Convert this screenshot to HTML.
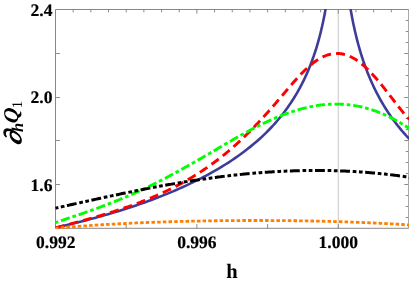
<!DOCTYPE html>
<html><head><meta charset="utf-8">
<style>
html,body{margin:0;padding:0;background:#fff;}
body{width:409px;height:282px;overflow:hidden;position:relative;font-family:"Liberation Serif",serif;}
svg{position:absolute;left:0;top:0;will-change:transform;}
text{text-rendering:geometricPrecision;}
.t{font-family:"Liberation Serif",serif;font-weight:bold;fill:#000;}
</style></head><body>
<svg width="409" height="282" viewBox="0 0 409 282">
<rect x="0" y="0" width="409" height="282" fill="#fff"/>
<defs><clipPath id="c"><rect x="54.6" y="9.0" width="354.8" height="220.0"/></clipPath></defs>
<line x1="338.3" y1="9.5" x2="338.3" y2="228.3" stroke="#d2d2d2" stroke-width="1.2"/>
<g stroke="#8a8a8a" stroke-width="1" fill="none">
<line x1="73.17" y1="9.5" x2="73.17" y2="12.30"/>
<line x1="90.85" y1="9.5" x2="90.85" y2="12.30"/>
<line x1="108.53" y1="9.5" x2="108.53" y2="12.30"/>
<line x1="126.2" y1="228.3" x2="126.2" y2="224.10"/>
<line x1="126.2" y1="9.5" x2="126.2" y2="12.30"/>
<line x1="143.88" y1="9.5" x2="143.88" y2="12.30"/>
<line x1="161.55" y1="9.5" x2="161.55" y2="12.30"/>
<line x1="179.23" y1="9.5" x2="179.23" y2="12.30"/>
<line x1="196.9" y1="228.3" x2="196.9" y2="224.10"/>
<line x1="196.9" y1="9.5" x2="196.9" y2="13.70"/>
<line x1="214.58" y1="9.5" x2="214.58" y2="12.30"/>
<line x1="232.25" y1="9.5" x2="232.25" y2="12.30"/>
<line x1="249.93" y1="9.5" x2="249.93" y2="12.30"/>
<line x1="267.6" y1="228.3" x2="267.6" y2="224.10"/>
<line x1="267.6" y1="9.5" x2="267.6" y2="12.30"/>
<line x1="285.27" y1="9.5" x2="285.27" y2="12.30"/>
<line x1="302.95" y1="9.5" x2="302.95" y2="12.30"/>
<line x1="320.62" y1="9.5" x2="320.62" y2="12.30"/>
<line x1="338.3" y1="228.3" x2="338.3" y2="224.10"/>
<line x1="338.3" y1="9.5" x2="338.3" y2="13.70"/>
<line x1="355.98" y1="9.5" x2="355.98" y2="12.30"/>
<line x1="373.65" y1="9.5" x2="373.65" y2="12.30"/>
<line x1="391.32" y1="9.5" x2="391.32" y2="12.30"/>
<line x1="55.5" y1="53.5" x2="59.9" y2="53.5"/>
<line x1="55.5" y1="97.5" x2="59.9" y2="97.5"/>
<line x1="55.5" y1="140.5" x2="59.9" y2="140.5"/>
<line x1="55.5" y1="184.5" x2="59.9" y2="184.5"/>
<line x1="408.5" y1="20.5" x2="405.7" y2="20.5"/>
<line x1="408.5" y1="31.5" x2="405.7" y2="31.5"/>
<line x1="408.5" y1="42.5" x2="405.7" y2="42.5"/>
<line x1="408.5" y1="53.5" x2="404.3" y2="53.5"/>
<line x1="408.5" y1="64.5" x2="405.7" y2="64.5"/>
<line x1="408.5" y1="75.5" x2="405.7" y2="75.5"/>
<line x1="408.5" y1="86.5" x2="405.7" y2="86.5"/>
<line x1="408.5" y1="97.5" x2="404.3" y2="97.5"/>
<line x1="408.5" y1="107.5" x2="405.7" y2="107.5"/>
<line x1="408.5" y1="118.5" x2="405.7" y2="118.5"/>
<line x1="408.5" y1="129.5" x2="405.7" y2="129.5"/>
<line x1="408.5" y1="140.5" x2="404.3" y2="140.5"/>
<line x1="408.5" y1="151.5" x2="405.7" y2="151.5"/>
<line x1="408.5" y1="162.5" x2="405.7" y2="162.5"/>
<line x1="408.5" y1="173.5" x2="405.7" y2="173.5"/>
<line x1="408.5" y1="184.5" x2="404.3" y2="184.5"/>
<line x1="408.5" y1="195.5" x2="405.7" y2="195.5"/>
<line x1="408.5" y1="206.5" x2="405.7" y2="206.5"/>
<line x1="408.5" y1="217.5" x2="405.7" y2="217.5"/>
</g>
<path d="M408.5,9.5 L55.5,9.5 L55.5,228.3 L408.5,228.3" stroke="#888888" stroke-width="1" fill="none" stroke-linejoin="miter"/>
<line x1="408.5" y1="9.0" x2="408.5" y2="228.8" stroke="#a8a8a8" stroke-width="1"/>
<g clip-path="url(#c)" fill="none" stroke-linejoin="round">
<path d="M55.50,227.59 L58.59,226.90 L61.69,226.20 L64.78,225.49 L67.88,224.77 L70.97,224.03 L74.07,223.29 L77.16,222.53 L80.26,221.75 L83.35,220.97 L86.45,220.17 L89.54,219.36 L92.64,218.54 L95.73,217.70 L98.83,216.85 L101.92,215.98 L105.02,215.10 L108.11,214.20 L111.21,213.29 L114.30,212.37 L117.40,211.43 L120.49,210.47 L123.59,209.50 L126.68,208.51 L129.78,207.50 L132.87,206.47 L135.97,205.43 L139.06,204.37 L142.16,203.29 L145.25,202.19 L148.35,201.07 L151.44,199.93 L154.54,198.77 L157.63,197.59 L160.73,196.39 L163.82,195.16 L166.92,193.91 L170.01,192.64 L173.11,191.34 L176.20,190.01 L179.30,188.66 L182.39,187.27 L185.49,185.86 L188.58,184.42 L191.68,182.95 L194.77,181.45 L197.87,179.91 L200.96,178.33 L204.06,176.72 L207.15,175.07 L210.25,173.39 L213.34,171.65 L216.44,169.88 L219.53,168.06 L222.63,166.18 L225.72,164.26 L228.82,162.28 L231.91,160.25 L235.01,158.16 L238.10,156.00 L241.20,153.77 L244.29,151.47 L247.39,149.09 L250.48,146.63 L253.58,144.08 L256.67,141.44 L259.77,138.69 L262.86,135.84 L265.96,132.86 L269.05,129.75 L272.15,126.50 L275.24,123.09 L278.34,119.52 L281.43,115.75 L284.53,111.77 L287.62,107.55 L290.72,103.07 L293.81,98.29 L296.91,93.15 L300.00,87.62 L300.50,86.69 L300.89,85.96 L301.27,85.22 L301.66,84.47 L302.04,83.72 L302.43,82.96 L302.82,82.19 L303.20,81.41 L303.59,80.62 L303.97,79.82 L304.36,79.02 L304.75,78.20 L305.13,77.38 L305.52,76.55 L305.91,75.70 L306.29,74.85 L306.68,73.98 L307.06,73.11 L307.45,72.22 L307.84,71.33 L308.22,70.42 L308.61,69.50 L308.99,68.57 L309.38,67.62 L309.77,66.66 L310.15,65.69 L310.54,64.71 L310.92,63.71 L311.31,62.70 L311.70,61.67 L312.08,60.63 L312.47,59.57 L312.85,58.50 L313.24,57.41 L313.63,56.31 L314.01,55.18 L314.40,54.04 L314.78,52.88 L315.17,51.70 L315.56,50.50 L315.94,49.28 L316.33,48.04 L316.72,46.77 L317.10,45.49 L317.49,44.18 L317.87,42.84 L318.26,41.48 L318.65,40.09 L319.03,38.68 L319.42,37.24 L319.80,35.76 L320.19,34.26 L320.58,32.72 L320.96,31.15 L321.35,29.55 L321.73,27.90 L322.12,26.22 L322.51,24.50 L322.89,22.73 L323.28,20.92 L323.66,19.06 L324.05,17.16 L324.44,15.20 L324.82,13.18 L325.21,11.11 L325.59,8.97 L325.98,6.77 L326.37,4.50 L326.75,2.15 L327.14,-0.28 L327.53,-2.79" stroke="#3d3d99" stroke-width="2.6"/>
<path d="M348.41,-4.96 L348.82,-2.07 L349.24,0.71 L349.65,3.39 L350.07,5.98 L350.48,8.47 L350.90,10.89 L351.31,13.23 L351.73,15.50 L352.14,17.71 L352.56,19.85 L352.97,21.92 L353.39,23.95 L353.81,25.92 L354.22,27.84 L354.64,29.71 L355.05,31.54 L355.47,33.32 L355.88,35.06 L356.30,36.77 L356.71,38.43 L357.13,40.06 L357.54,41.65 L357.96,43.22 L358.37,44.75 L358.79,46.25 L359.20,47.72 L359.62,49.16 L360.03,50.58 L360.45,51.97 L360.86,53.34 L361.28,54.68 L361.69,56.00 L362.11,57.29 L362.53,58.57 L362.94,59.82 L363.36,61.05 L363.77,62.27 L364.19,63.46 L364.60,64.64 L365.02,65.80 L365.43,66.94 L365.85,68.07 L366.26,69.17 L366.68,70.27 L367.09,71.35 L367.51,72.41 L367.92,73.46 L368.34,74.49 L368.75,75.51 L369.17,76.52 L369.58,77.51 L370.00,78.49 L370.50,79.66 L371.30,81.48 L372.09,83.26 L372.89,85.00 L373.68,86.70 L374.48,88.36 L375.28,89.99 L376.07,91.58 L376.87,93.14 L377.66,94.67 L378.46,96.18 L379.26,97.65 L380.05,99.09 L380.85,100.51 L381.64,101.90 L382.44,103.27 L383.23,104.61 L384.03,105.93 L384.83,107.23 L385.62,108.51 L386.42,109.76 L387.21,111.00 L388.01,112.21 L388.81,113.41 L389.60,114.58 L390.40,115.74 L391.19,116.88 L391.99,118.01 L392.79,119.11 L393.58,120.20 L394.38,121.28 L395.17,122.34 L395.97,123.38 L396.77,124.41 L397.56,125.43 L398.36,126.43 L399.15,127.42 L399.95,128.39 L400.74,129.36 L401.54,130.31 L402.34,131.24 L403.13,132.17 L403.93,133.08 L404.72,133.98 L405.52,134.87 L406.32,135.75 L407.11,136.62 L407.91,137.48 L408.70,138.33 L409.50,139.16" stroke="#3d3d99" stroke-width="2.6"/>
<path d="M55.50,227.89 L56.87,227.54 L58.23,227.18 L59.60,226.82 L60.97,226.46 L62.33,226.11 L63.70,225.75 L65.07,225.39 L66.43,225.03 L67.80,224.66 L69.17,224.30 L70.53,223.94 L71.90,223.57 L73.27,223.21 L74.64,222.84 L76.00,222.47 L77.37,222.10 L78.74,221.73 L80.10,221.36 L81.47,220.98 L82.84,220.61 L84.20,220.23 L85.57,219.85 L86.94,219.47 L88.30,219.08 L89.67,218.70 L91.04,218.31 L92.40,217.92 L93.77,217.53 L95.14,217.13 L96.50,216.74 L97.87,216.34 L99.24,215.94 L100.60,215.53 L101.97,215.13 L103.34,214.72 L104.70,214.30 L106.07,213.89 L107.44,213.47 L108.81,213.05 L110.17,212.62 L111.54,212.19 L112.91,211.76 L114.27,211.32 L115.64,210.88 L117.01,210.44 L118.37,209.99 L119.74,209.54 L121.11,209.09 L122.47,208.63 L123.84,208.17 L125.21,207.70 L126.57,207.23 L127.94,206.75 L129.31,206.27 L130.67,205.78 L132.04,205.29 L133.41,204.80 L134.77,204.30 L136.14,203.79 L137.51,203.28 L138.87,202.76 L140.24,202.24 L141.61,201.71 L142.97,201.18 L144.34,200.64 L145.71,200.10 L147.08,199.54 L148.44,198.99 L149.81,198.42 L151.18,197.85 L152.54,197.28 L153.91,196.70 L155.28,196.11 L156.64,195.51 L158.01,194.91 L159.38,194.30 L160.74,193.68 L162.11,193.05 L163.48,192.42 L164.84,191.78 L166.21,191.13 L167.58,190.48 L168.94,189.81 L170.31,189.14 L171.68,188.46 L173.04,187.77 L174.41,187.08 L175.78,186.37 L177.14,185.66 L178.51,184.93 L179.88,184.20 L181.25,183.46 L182.61,182.71 L183.98,181.95 L185.35,181.18 L186.71,180.40 L188.08,179.61 L189.45,178.81 L190.81,178.00 L192.18,177.18 L193.55,176.35 L194.91,175.51 L196.28,174.66 L197.65,173.80 L199.01,172.92 L200.38,172.04 L201.75,171.14 L203.11,170.23 L204.48,169.31 L205.85,168.38 L207.21,167.44 L208.58,166.49 L209.95,165.52 L211.31,164.54 L212.68,163.55 L214.05,162.54 L215.42,161.52 L216.78,160.49 L218.15,159.45 L219.52,158.39 L220.88,157.32 L222.25,156.24 L223.62,155.14 L224.98,154.03 L226.35,152.90 L227.72,151.76 L229.08,150.61 L230.45,149.44 L231.82,148.26 L233.18,147.06 L234.55,145.85 L235.92,144.63 L237.28,143.39 L238.65,142.14 L240.02,140.87 L241.38,139.59 L242.75,138.29 L244.12,136.99 L245.48,135.66 L246.85,134.33 L248.22,132.98 L249.58,131.61 L250.95,130.24 L252.32,128.85 L253.69,127.44 L255.05,126.02 L256.42,124.59 L257.79,123.15 L259.15,121.70 L260.52,120.23 L261.89,118.75 L263.25,117.26 L264.62,115.75 L265.99,114.24 L267.35,112.71 L268.72,111.17 L270.09,109.63 L271.45,108.07 L272.82,106.50 L274.19,104.93 L275.55,103.34 L276.92,101.75 L278.29,100.15 L279.65,98.55 L281.02,96.95 L282.39,95.34 L283.75,93.72 L285.12,92.11 L286.49,90.50 L287.86,88.89 L289.22,87.29 L290.59,85.70 L291.96,84.11 L293.32,82.54 L294.69,80.99 L296.06,79.46 L297.42,77.95 L298.79,76.46 L300.16,75.00 L301.52,73.58 L302.89,72.18 L304.26,70.82 L305.62,69.50 L306.99,68.22 L308.36,66.98 L309.72,65.79 L311.09,64.64 L312.46,63.54 L313.82,62.48 L315.19,61.48 L316.56,60.53 L317.92,59.64 L319.29,58.80 L320.66,58.02 L322.03,57.30 L323.39,56.63 L324.76,56.03 L326.13,55.49 L327.49,55.00 L328.86,54.59 L330.23,54.23 L331.59,53.94 L332.96,53.72 L334.33,53.56 L335.69,53.46 L337.06,53.43 L338.43,53.47 L339.79,53.57 L341.16,53.74 L342.53,53.98 L343.89,54.28 L345.26,54.64 L346.63,55.07 L347.99,55.57 L349.36,56.13 L350.73,56.75 L352.09,57.43 L353.46,58.18 L354.83,58.99 L356.19,59.85 L357.56,60.78 L358.93,61.76 L360.30,62.80 L361.66,63.89 L363.03,65.04 L364.40,66.24 L365.76,67.49 L367.13,68.79 L368.50,70.13 L369.86,71.52 L371.23,72.95 L372.60,74.42 L373.96,75.94 L375.33,77.48 L376.70,79.07 L378.06,80.68 L379.43,82.32 L380.80,83.99 L382.16,85.68 L383.53,87.40 L384.90,89.13 L386.26,90.88 L387.63,92.64 L389.00,94.40 L390.36,96.18 L391.73,97.96 L393.10,99.73 L394.47,101.50 L395.83,103.27 L397.20,105.02 L398.57,106.75 L399.93,108.47 L401.30,110.16 L402.67,111.83 L404.03,113.47 L405.40,115.06 L406.77,116.62 L408.13,118.14 L409.50,119.61" stroke="#ff0000" stroke-width="2.9" stroke-dasharray="9 5.1" stroke-dashoffset="-0.3"/>
<path d="M55.50,222.58 L56.87,222.12 L58.23,221.66 L59.60,221.19 L60.97,220.73 L62.33,220.27 L63.70,219.82 L65.07,219.36 L66.43,218.90 L67.80,218.44 L69.17,217.98 L70.53,217.52 L71.90,217.06 L73.27,216.60 L74.64,216.13 L76.00,215.67 L77.37,215.21 L78.74,214.74 L80.10,214.27 L81.47,213.81 L82.84,213.33 L84.20,212.86 L85.57,212.39 L86.94,211.91 L88.30,211.43 L89.67,210.95 L91.04,210.46 L92.40,209.98 L93.77,209.49 L95.14,208.99 L96.50,208.50 L97.87,208.00 L99.24,207.50 L100.60,206.99 L101.97,206.48 L103.34,205.97 L104.70,205.46 L106.07,204.94 L107.44,204.41 L108.81,203.89 L110.17,203.35 L111.54,202.82 L112.91,202.28 L114.27,201.74 L115.64,201.19 L117.01,200.64 L118.37,200.08 L119.74,199.52 L121.11,198.96 L122.47,198.39 L123.84,197.81 L125.21,197.24 L126.57,196.65 L127.94,196.07 L129.31,195.47 L130.67,194.88 L132.04,194.28 L133.41,193.67 L134.77,193.06 L136.14,192.44 L137.51,191.82 L138.87,191.20 L140.24,190.57 L141.61,189.94 L142.97,189.30 L144.34,188.65 L145.71,188.01 L147.08,187.35 L148.44,186.69 L149.81,186.03 L151.18,185.37 L152.54,184.69 L153.91,184.02 L155.28,183.34 L156.64,182.65 L158.01,181.96 L159.38,181.27 L160.74,180.57 L162.11,179.87 L163.48,179.16 L164.84,178.45 L166.21,177.73 L167.58,177.01 L168.94,176.29 L170.31,175.56 L171.68,174.83 L173.04,174.09 L174.41,173.35 L175.78,172.61 L177.14,171.86 L178.51,171.11 L179.88,170.36 L181.25,169.60 L182.61,168.84 L183.98,168.08 L185.35,167.31 L186.71,166.55 L188.08,165.77 L189.45,165.00 L190.81,164.22 L192.18,163.44 L193.55,162.66 L194.91,161.88 L196.28,161.09 L197.65,160.30 L199.01,159.51 L200.38,158.72 L201.75,157.93 L203.11,157.13 L204.48,156.33 L205.85,155.54 L207.21,154.74 L208.58,153.94 L209.95,153.14 L211.31,152.34 L212.68,151.54 L214.05,150.74 L215.42,149.94 L216.78,149.14 L218.15,148.34 L219.52,147.54 L220.88,146.74 L222.25,145.95 L223.62,145.15 L224.98,144.36 L226.35,143.56 L227.72,142.77 L229.08,141.98 L230.45,141.20 L231.82,140.41 L233.18,139.63 L234.55,138.85 L235.92,138.07 L237.28,137.30 L238.65,136.53 L240.02,135.77 L241.38,135.00 L242.75,134.25 L244.12,133.49 L245.48,132.75 L246.85,132.00 L248.22,131.27 L249.58,130.53 L250.95,129.81 L252.32,129.09 L253.69,128.37 L255.05,127.66 L256.42,126.96 L257.79,126.27 L259.15,125.58 L260.52,124.90 L261.89,124.22 L263.25,123.56 L264.62,122.90 L265.99,122.25 L267.35,121.61 L268.72,120.98 L270.09,120.35 L271.45,119.74 L272.82,119.13 L274.19,118.54 L275.55,117.95 L276.92,117.37 L278.29,116.80 L279.65,116.25 L281.02,115.70 L282.39,115.16 L283.75,114.64 L285.12,114.12 L286.49,113.62 L287.86,113.13 L289.22,112.64 L290.59,112.17 L291.96,111.72 L293.32,111.27 L294.69,110.83 L296.06,110.41 L297.42,110.00 L298.79,109.61 L300.16,109.22 L301.52,108.85 L302.89,108.49 L304.26,108.14 L305.62,107.81 L306.99,107.49 L308.36,107.18 L309.72,106.89 L311.09,106.61 L312.46,106.35 L313.82,106.10 L315.19,105.86 L316.56,105.64 L317.92,105.43 L319.29,105.24 L320.66,105.06 L322.03,104.90 L323.39,104.75 L324.76,104.61 L326.13,104.49 L327.49,104.39 L328.86,104.30 L330.23,104.23 L331.59,104.17 L332.96,104.13 L334.33,104.10 L335.69,104.09 L337.06,104.10 L338.43,104.12 L339.79,104.16 L341.16,104.21 L342.53,104.28 L343.89,104.37 L345.26,104.47 L346.63,104.59 L347.99,104.72 L349.36,104.88 L350.73,105.04 L352.09,105.23 L353.46,105.43 L354.83,105.65 L356.19,105.89 L357.56,106.14 L358.93,106.41 L360.30,106.70 L361.66,107.00 L363.03,107.32 L364.40,107.66 L365.76,108.01 L367.13,108.39 L368.50,108.78 L369.86,109.19 L371.23,109.61 L372.60,110.05 L373.96,110.51 L375.33,110.99 L376.70,111.48 L378.06,112.00 L379.43,112.52 L380.80,113.07 L382.16,113.64 L383.53,114.22 L384.90,114.82 L386.26,115.44 L387.63,116.07 L389.00,116.72 L390.36,117.39 L391.73,118.08 L393.10,118.79 L394.47,119.51 L395.83,120.25 L397.20,121.01 L398.57,121.78 L399.93,122.58 L401.30,123.39 L402.67,124.21 L404.03,125.06 L405.40,125.92 L406.77,126.80 L408.13,127.70 L409.50,128.61" stroke="#00ff00" stroke-width="2.9" stroke-dasharray="9.3 2.85 3.7 2.87" stroke-dashoffset="-5.74"/>
<path d="M55.50,208.19 L56.87,207.89 L58.23,207.58 L59.60,207.27 L60.97,206.97 L62.33,206.66 L63.70,206.36 L65.07,206.05 L66.43,205.74 L67.80,205.44 L69.17,205.13 L70.53,204.83 L71.90,204.52 L73.27,204.22 L74.64,203.91 L76.00,203.61 L77.37,203.30 L78.74,203.00 L80.10,202.70 L81.47,202.39 L82.84,202.09 L84.20,201.79 L85.57,201.49 L86.94,201.19 L88.30,200.88 L89.67,200.58 L91.04,200.28 L92.40,199.98 L93.77,199.68 L95.14,199.39 L96.50,199.09 L97.87,198.79 L99.24,198.49 L100.60,198.20 L101.97,197.90 L103.34,197.61 L104.70,197.31 L106.07,197.02 L107.44,196.73 L108.81,196.43 L110.17,196.14 L111.54,195.85 L112.91,195.56 L114.27,195.27 L115.64,194.98 L117.01,194.70 L118.37,194.41 L119.74,194.13 L121.11,193.84 L122.47,193.56 L123.84,193.27 L125.21,192.99 L126.57,192.71 L127.94,192.43 L129.31,192.15 L130.67,191.88 L132.04,191.60 L133.41,191.32 L134.77,191.05 L136.14,190.78 L137.51,190.50 L138.87,190.23 L140.24,189.96 L141.61,189.69 L142.97,189.43 L144.34,189.16 L145.71,188.90 L147.08,188.63 L148.44,188.37 L149.81,188.11 L151.18,187.85 L152.54,187.59 L153.91,187.33 L155.28,187.08 L156.64,186.82 L158.01,186.57 L159.38,186.32 L160.74,186.07 L162.11,185.82 L163.48,185.57 L164.84,185.33 L166.21,185.08 L167.58,184.84 L168.94,184.60 L170.31,184.36 L171.68,184.12 L173.04,183.88 L174.41,183.65 L175.78,183.42 L177.14,183.18 L178.51,182.95 L179.88,182.72 L181.25,182.50 L182.61,182.27 L183.98,182.05 L185.35,181.83 L186.71,181.61 L188.08,181.39 L189.45,181.17 L190.81,180.96 L192.18,180.74 L193.55,180.53 L194.91,180.32 L196.28,180.12 L197.65,179.91 L199.01,179.71 L200.38,179.50 L201.75,179.30 L203.11,179.10 L204.48,178.91 L205.85,178.71 L207.21,178.52 L208.58,178.33 L209.95,178.14 L211.31,177.96 L212.68,177.77 L214.05,177.59 L215.42,177.41 L216.78,177.23 L218.15,177.05 L219.52,176.88 L220.88,176.70 L222.25,176.53 L223.62,176.37 L224.98,176.20 L226.35,176.04 L227.72,175.87 L229.08,175.71 L230.45,175.56 L231.82,175.40 L233.18,175.25 L234.55,175.10 L235.92,174.95 L237.28,174.80 L238.65,174.66 L240.02,174.51 L241.38,174.37 L242.75,174.24 L244.12,174.10 L245.48,173.97 L246.85,173.84 L248.22,173.71 L249.58,173.58 L250.95,173.46 L252.32,173.34 L253.69,173.22 L255.05,173.10 L256.42,172.99 L257.79,172.87 L259.15,172.76 L260.52,172.66 L261.89,172.55 L263.25,172.45 L264.62,172.35 L265.99,172.25 L267.35,172.16 L268.72,172.06 L270.09,171.97 L271.45,171.89 L272.82,171.80 L274.19,171.72 L275.55,171.64 L276.92,171.56 L278.29,171.49 L279.65,171.41 L281.02,171.34 L282.39,171.28 L283.75,171.21 L285.12,171.15 L286.49,171.09 L287.86,171.03 L289.22,170.98 L290.59,170.93 L291.96,170.88 L293.32,170.83 L294.69,170.79 L296.06,170.74 L297.42,170.71 L298.79,170.67 L300.16,170.64 L301.52,170.61 L302.89,170.58 L304.26,170.55 L305.62,170.53 L306.99,170.51 L308.36,170.49 L309.72,170.48 L311.09,170.47 L312.46,170.46 L313.82,170.45 L315.19,170.45 L316.56,170.45 L317.92,170.45 L319.29,170.46 L320.66,170.47 L322.03,170.48 L323.39,170.49 L324.76,170.51 L326.13,170.53 L327.49,170.55 L328.86,170.57 L330.23,170.60 L331.59,170.63 L332.96,170.66 L334.33,170.70 L335.69,170.74 L337.06,170.78 L338.43,170.83 L339.79,170.87 L341.16,170.92 L342.53,170.98 L343.89,171.03 L345.26,171.09 L346.63,171.16 L347.99,171.22 L349.36,171.29 L350.73,171.36 L352.09,171.43 L353.46,171.51 L354.83,171.59 L356.19,171.67 L357.56,171.76 L358.93,171.85 L360.30,171.94 L361.66,172.03 L363.03,172.13 L364.40,172.23 L365.76,172.34 L367.13,172.44 L368.50,172.55 L369.86,172.66 L371.23,172.78 L372.60,172.90 L373.96,173.02 L375.33,173.14 L376.70,173.27 L378.06,173.40 L379.43,173.54 L380.80,173.67 L382.16,173.81 L383.53,173.95 L384.90,174.10 L386.26,174.25 L387.63,174.40 L389.00,174.56 L390.36,174.71 L391.73,174.87 L393.10,175.04 L394.47,175.21 L395.83,175.38 L397.20,175.55 L398.57,175.72 L399.93,175.90 L401.30,176.09 L402.67,176.27 L404.03,176.46 L405.40,176.65 L406.77,176.85 L408.13,177.04 L409.50,177.25" stroke="#000" stroke-width="3" stroke-dasharray="9.9 2.75 3.7 2.53 3.7 2.53" stroke-dashoffset="-11.69"/>
<path d="M55.50,228.27 L56.87,228.15 L58.23,228.02 L59.60,227.90 L60.97,227.78 L62.33,227.67 L63.70,227.55 L65.07,227.43 L66.43,227.32 L67.80,227.20 L69.17,227.09 L70.53,226.98 L71.90,226.87 L73.27,226.76 L74.64,226.66 L76.00,226.55 L77.37,226.45 L78.74,226.34 L80.10,226.24 L81.47,226.14 L82.84,226.04 L84.20,225.94 L85.57,225.84 L86.94,225.75 L88.30,225.65 L89.67,225.56 L91.04,225.47 L92.40,225.37 L93.77,225.28 L95.14,225.19 L96.50,225.11 L97.87,225.02 L99.24,224.93 L100.60,224.85 L101.97,224.76 L103.34,224.68 L104.70,224.60 L106.07,224.52 L107.44,224.44 L108.81,224.36 L110.17,224.28 L111.54,224.20 L112.91,224.12 L114.27,224.05 L115.64,223.98 L117.01,223.90 L118.37,223.83 L119.74,223.76 L121.11,223.69 L122.47,223.62 L123.84,223.55 L125.21,223.48 L126.57,223.42 L127.94,223.35 L129.31,223.29 L130.67,223.22 L132.04,223.16 L133.41,223.10 L134.77,223.03 L136.14,222.97 L137.51,222.91 L138.87,222.86 L140.24,222.80 L141.61,222.74 L142.97,222.68 L144.34,222.63 L145.71,222.57 L147.08,222.52 L148.44,222.47 L149.81,222.41 L151.18,222.36 L152.54,222.31 L153.91,222.26 L155.28,222.21 L156.64,222.17 L158.01,222.12 L159.38,222.07 L160.74,222.03 L162.11,221.98 L163.48,221.94 L164.84,221.89 L166.21,221.85 L167.58,221.81 L168.94,221.77 L170.31,221.73 L171.68,221.69 L173.04,221.65 L174.41,221.61 L175.78,221.57 L177.14,221.53 L178.51,221.50 L179.88,221.46 L181.25,221.43 L182.61,221.39 L183.98,221.36 L185.35,221.32 L186.71,221.29 L188.08,221.26 L189.45,221.23 L190.81,221.20 L192.18,221.17 L193.55,221.14 L194.91,221.11 L196.28,221.08 L197.65,221.06 L199.01,221.03 L200.38,221.01 L201.75,220.98 L203.11,220.96 L204.48,220.93 L205.85,220.91 L207.21,220.89 L208.58,220.87 L209.95,220.84 L211.31,220.82 L212.68,220.80 L214.05,220.79 L215.42,220.77 L216.78,220.75 L218.15,220.73 L219.52,220.71 L220.88,220.70 L222.25,220.68 L223.62,220.67 L224.98,220.65 L226.35,220.64 L227.72,220.63 L229.08,220.61 L230.45,220.60 L231.82,220.59 L233.18,220.58 L234.55,220.57 L235.92,220.56 L237.28,220.55 L238.65,220.55 L240.02,220.54 L241.38,220.53 L242.75,220.52 L244.12,220.52 L245.48,220.51 L246.85,220.51 L248.22,220.50 L249.58,220.50 L250.95,220.50 L252.32,220.50 L253.69,220.50 L255.05,220.49 L256.42,220.49 L257.79,220.49 L259.15,220.50 L260.52,220.50 L261.89,220.50 L263.25,220.50 L264.62,220.51 L265.99,220.51 L267.35,220.51 L268.72,220.52 L270.09,220.52 L271.45,220.53 L272.82,220.54 L274.19,220.55 L275.55,220.55 L276.92,220.56 L278.29,220.57 L279.65,220.58 L281.02,220.59 L282.39,220.61 L283.75,220.62 L285.12,220.63 L286.49,220.64 L287.86,220.66 L289.22,220.67 L290.59,220.69 L291.96,220.70 L293.32,220.72 L294.69,220.74 L296.06,220.75 L297.42,220.77 L298.79,220.79 L300.16,220.81 L301.52,220.83 L302.89,220.85 L304.26,220.88 L305.62,220.90 L306.99,220.92 L308.36,220.94 L309.72,220.97 L311.09,220.99 L312.46,221.02 L313.82,221.05 L315.19,221.07 L316.56,221.10 L317.92,221.13 L319.29,221.16 L320.66,221.19 L322.03,221.22 L323.39,221.25 L324.76,221.29 L326.13,221.32 L327.49,221.35 L328.86,221.39 L330.23,221.42 L331.59,221.46 L332.96,221.49 L334.33,221.53 L335.69,221.57 L337.06,221.61 L338.43,221.65 L339.79,221.69 L341.16,221.73 L342.53,221.77 L343.89,221.82 L345.26,221.86 L346.63,221.90 L347.99,221.95 L349.36,222.00 L350.73,222.04 L352.09,222.09 L353.46,222.14 L354.83,222.19 L356.19,222.24 L357.56,222.29 L358.93,222.34 L360.30,222.40 L361.66,222.45 L363.03,222.50 L364.40,222.56 L365.76,222.62 L367.13,222.67 L368.50,222.73 L369.86,222.79 L371.23,222.85 L372.60,222.91 L373.96,222.98 L375.33,223.04 L376.70,223.10 L378.06,223.17 L379.43,223.23 L380.80,223.30 L382.16,223.37 L383.53,223.44 L384.90,223.51 L386.26,223.58 L387.63,223.65 L389.00,223.72 L390.36,223.79 L391.73,223.87 L393.10,223.95 L394.47,224.02 L395.83,224.10 L397.20,224.18 L398.57,224.26 L399.93,224.34 L401.30,224.42 L402.67,224.51 L404.03,224.59 L405.40,224.68 L406.77,224.76 L408.13,224.85 L409.50,224.94" stroke="#ff8000" stroke-width="2.8" stroke-dasharray="3.55 2.13" stroke-dashoffset="0.4"/>
</g>
<g class="t" font-size="17.6" text-anchor="end" stroke="#000" stroke-width="0.18">
<text x="52.5" y="16.1">2.4</text>
<text x="52.5" y="103.1">2.0</text>
<text x="52.5" y="190.6">1.6</text>
</g>
<g class="t" font-size="17.5" text-anchor="middle" stroke="#000" stroke-width="0.18">
<text x="55.7" y="247.8">0.992</text>
<text x="196.9" y="247.8">0.996</text>
<text x="338.2" y="247.8">1.000</text>
</g>
<text class="t" font-size="20.5" text-anchor="middle" x="232" y="277.6">h</text>
<g transform="translate(0,143.6) rotate(-90)" class="t">
<g transform="translate(-1.8,20.9) skewX(-18) scale(1.16,1)"><text font-size="23.8" font-weight="normal" x="0" y="0" stroke="#000" stroke-width="1.0" stroke-linejoin="round">∂</text></g>
<text font-size="16.5" font-style="italic" x="11.5" y="22.6">h</text>
<g transform="translate(19.7,17.9) skewX(-9)"><text font-size="21" font-style="italic" x="0" y="0">Q</text></g>
<text font-size="14.7" font-weight="normal" x="35.4" y="22.1">1</text>
</g>
</svg>
</body></html>
